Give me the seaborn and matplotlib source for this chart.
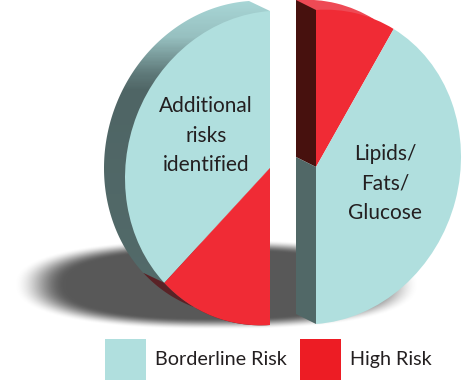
import numpy as np
import matplotlib
matplotlib.use("Agg")
import matplotlib.pyplot as plt
import seaborn as sns
from matplotlib.colors import LinearSegmentedColormap
from matplotlib.patches import Patch, Polygon, PathPatch
from matplotlib.path import Path
from matplotlib.transforms import Affine2D

# ---- data (share of each half, %)
left_labels = ["Borderline Risk", "High Risk"]
left_values = [74, 26]
right_labels = ["High Risk", "Borderline Risk"]
right_values = [18, 82]
legend_labels = ["Borderline Risk", "High Risk"]
left_title = "Additional\nrisks\nidentified"
right_title = "Lipids/\nFats/\nGlucose"

sns.set_theme(style="white")
plt.rcParams["font.family"] = ["Lato", "DejaVu Sans"]
TEAL, RED, LEG_RED = sns.color_palette(["#b0dfde", "#f02b35", "#ed1c24"])
RIM_RED_LIGHT = "#ee4a55"
SIDE_RED = "#47110e"
SIDE_TEAL = "#516867"
TEXT = "#231f20"

fig = plt.figure(figsize=(4.63, 3.90), dpi=100)
ax = fig.add_axes([0, 0, 1, 1])

W, H = 463, 390
RX, RY, SHEAR = 145, 157, -0.07


def half_tf(cx, cy):
    # unit pie coordinates -> pixel axes, tilted like the original 3-D disc
    return Affine2D.from_values(RX, SHEAR * RX, 0, -RY, cx, cy) + ax.transData


def half_xy(cx, cy, deg):
    a = np.radians(deg)
    return np.c_[cx + RX * np.cos(a), cy - RY * np.sin(a) + SHEAR * RX * np.cos(a)]


def half_pie(values, cx, cy, colors, start, ccw, z):
    fr = np.asarray(values, float) / 100 * 0.5
    wedges, _ = ax.pie(fr, normalize=False, startangle=start, counterclock=ccw,
                       colors=colors, center=(0, 0), radius=1,
                       wedgeprops=dict(linewidth=0))
    for w in wedges:
        w.set_transform(half_tf(cx, cy))
        w.set_zorder(z)
    return wedges


# ---- ground shadow
yy, xx = np.mgrid[0:H, 0:W]
d = (np.abs((xx - 216) / 184) ** 2.4 + np.abs((yy - 284) / 41) ** 2.4) ** (1 / 2.4)
alpha = np.clip((1.10 - d) / 0.28, 0, 1)
alpha = alpha * alpha * (3 - 2 * alpha)
shadow = np.zeros((H, W, 4))
shadow[..., :3] = 0x58 / 255
shadow[..., 3] = alpha
ax.imshow(shadow, extent=(0, W, H, 0), aspect="auto", zorder=1, interpolation="bilinear")

# ---- left half
LCX, LCY = 270, 168
SX, SY = -21, -10
theta_split = 90 + left_values[0] / 100 * 180

# rim, with its gradient along the height
rim_back = half_xy(LCX + SX, LCY + SY, np.linspace(90, theta_split, 120))
rim_path = np.vstack([rim_back, half_xy(LCX, LCY, [theta_split]), [[LCX, LCY]],
                      half_xy(LCX, LCY, [90])])
rim_cmap = LinearSegmentedColormap.from_list(
    "rim", [(0, "#a8d6d6"), (0.12, "#97c0c0"), (0.24, "#607b7b"),
            (0.30, "#4f6565"), (1, "#536b6a")])
grad = np.linspace(0, 1, 300)[:, None]
im = ax.imshow(grad, extent=(95, 275, 300, 0), aspect="auto", cmap=rim_cmap, zorder=2)
clip = PathPatch(Path(rim_path, closed=False), transform=ax.transData, fc="none", ec="none")
ax.add_patch(clip)
im.set_clip_path(clip)

sliver_back = half_xy(LCX + SX, LCY + SY, np.linspace(theta_split, 270, 60))
sliver_front = half_xy(LCX, LCY, np.linspace(270, theta_split, 60))
ax.add_patch(Polygon(np.vstack([sliver_back, sliver_front]), closed=True,
                     fc="#5a2226", ec="none", zorder=2))

half_pie(left_values, LCX, LCY, [TEAL, RED], 90, True, 3)

# ---- right half
RCX, RCY = 316, 167
SX2, SY2 = -20, -10
half_pie(right_values, RCX + SX2, RCY + SY2, [RIM_RED_LIGHT, (1, 1, 1, 0)], 90, False, 2)

top_f, bot_f = half_xy(RCX, RCY, [90])[0], half_xy(RCX, RCY, [-90])[0]
off = np.array([SX2, SY2])
ctr = np.array([RCX, RCY], float)
ax.add_patch(Polygon([top_f, top_f + off, ctr + off, ctr], closed=True, fc=SIDE_RED, ec="none", zorder=3))
ax.add_patch(Polygon([ctr, ctr + off, bot_f + off, bot_f], closed=True, fc=SIDE_TEAL, ec="none", zorder=3))

half_pie(right_values, RCX, RCY, [RED, TEAL], 90, False, 4)

# ---- labels
ax.set_xlim(0, W)
ax.set_ylim(H, 0)
ax.set_aspect("auto")
ax.axis("off")

ax.text(206, 135.5, left_title, ha="center", va="center", fontsize=15,
        color=TEXT, linespacing=1.58, zorder=6)
ax.text(385, 183.5, right_title, ha="center", va="center", fontsize=15,
        color=TEXT, linespacing=1.58, zorder=6)

# ---- legend
handles = [Patch(fc=TEAL, ec="none"), Patch(fc=LEG_RED, ec="none")]
fs = 14.2
px = fs * 100 / 72
hh = (41 / px - 0.245) / 0.65
leg = ax.legend(handles, legend_labels, ncol=2, frameon=False, fontsize=fs,
                handlelength=41 / px, handleheight=hh, handletextpad=9 / px,
                columnspacing=13 / px, borderpad=0, borderaxespad=0,
                loc="upper left", bbox_to_anchor=(105, 339),
                bbox_transform=ax.transData, labelcolor=TEXT)

fig.savefig("out.png", dpi=100)
